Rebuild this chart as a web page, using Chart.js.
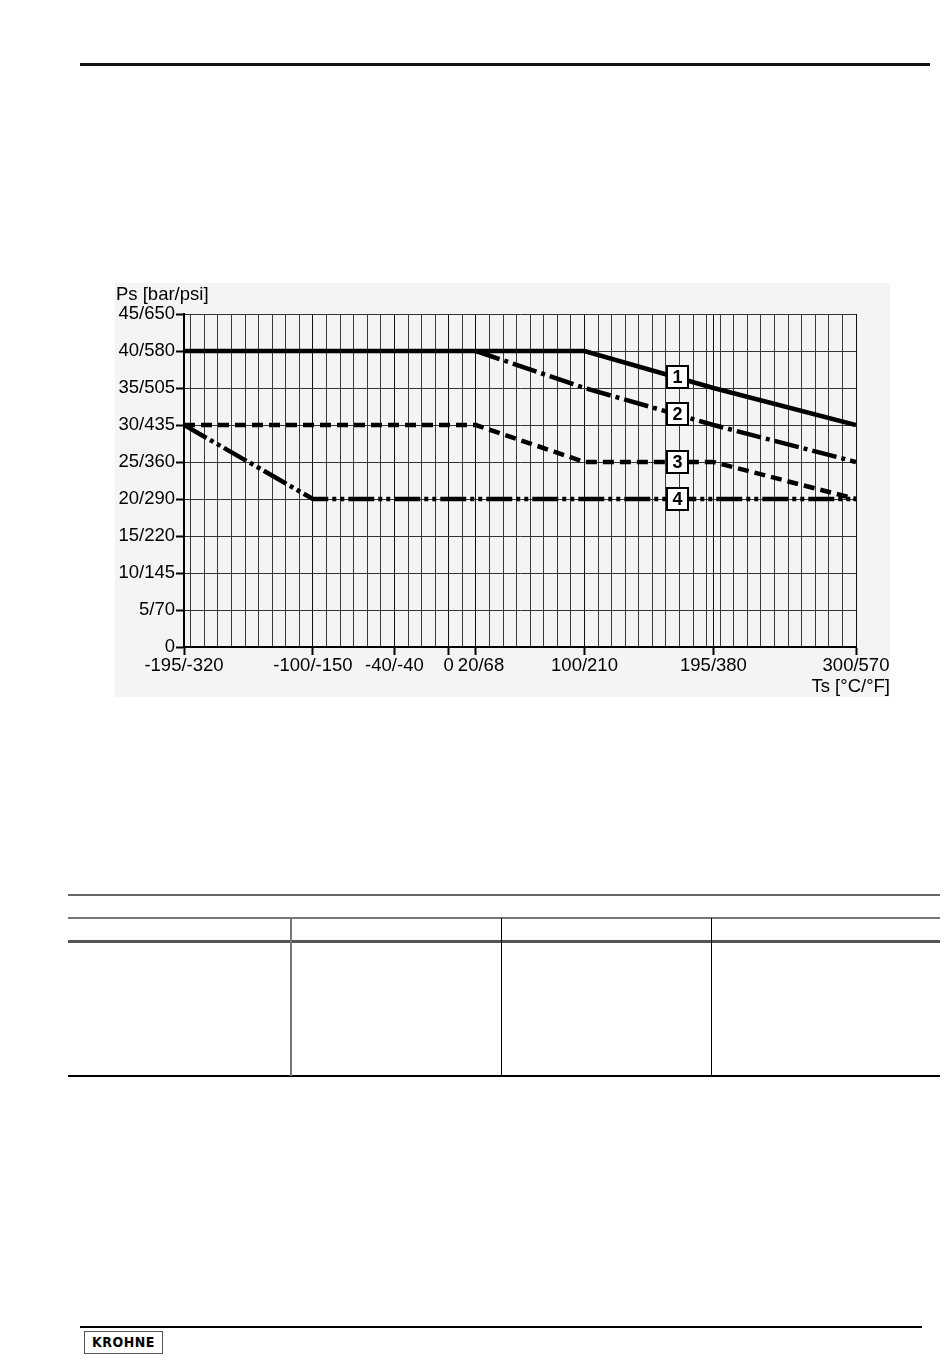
<!DOCTYPE html>
<html>
<head>
<meta charset="utf-8">
<script src="https://cdn.jsdelivr.net/npm/chart.js@4"></script>
<style>
  html, body { margin: 0; padding: 0; background: #fff; }
  body { width: 950px; height: 1371px; position: relative; overflow: hidden; font-family: 'Liberation Sans', Arial, sans-serif; }
  .rule { position: absolute; }
  #chartBg { position: absolute; left: 115px; top: 283px; width: 775px; height: 414px; background: #f4f4f4; }
  #chart { position: absolute; left: 115px; top: 283px; }
  #logo { position: absolute; left: 84px; top: 1331px; width: 77px; height: 21px; border: 1px solid #555;
          font: bold 14px 'DejaVu Sans Condensed', 'Liberation Sans Narrow', sans-serif; text-align: center; line-height: 21px; letter-spacing: 0.5px; }
</style>
</head>
<body>
<div class="rule" style="left:80px;top:63px;width:850px;height:3px;background:#111;"></div>

<div id="chartBg"></div>
<canvas id="chart" width="785" height="414"></canvas>

<!-- empty table below the chart -->
<div class="rule" style="left:68px;top:894px;width:872px;height:2px;background:#666;"></div>
<div class="rule" style="left:68px;top:917px;width:872px;height:2px;background:#777;"></div>
<div class="rule" style="left:68px;top:940px;width:872px;height:3px;background:#555;"></div>
<div class="rule" style="left:68px;top:1075px;width:872px;height:2px;background:#000;"></div>
<div class="rule" style="left:290px;top:918px;width:2px;height:158px;background:#777;"></div>
<div class="rule" style="left:501px;top:918px;width:1px;height:158px;background:#000;"></div>
<div class="rule" style="left:711px;top:918px;width:1px;height:158px;background:#000;"></div>

<div class="rule" style="left:80px;top:1326px;width:842px;height:2px;background:#000;"></div>
<div id="logo">KROHNE</div>

<script>
// temperature Ts [°C] and pressure Ps [bar] for each curve
var curve1T = [-195, 100, 195, 300];
var curve1P = [40, 40, 35, 30];
var curve2T = [20, 100, 195, 300];
var curve2P = [40, 35, 30, 25];
var curve3T = [-195, 20, 100, 195, 300];
var curve3P = [30, 30, 25, 25, 20];
var curve4T = [-195, -100, 300];
var curve4P = [30, 20, 20];

var curveNames = ['1', '2', '3', '4'];
var curveLabelT = 168;

// axis ticks
var xLabelC = [-195, -100, -40, 0, 20, 100, 195, 300];
var xLabelF = [-320, -150, -40, null, 68, 210, 380, 570];
var xGridT = [-195, -190, -180, -170, -160, -150, -140, -130, -120, -110, -100, -90, -80, -70, -60, -50, -40, -30, -20, -10,
              0, 10, 20, 30, 40, 50, 60, 70, 80, 90, 100, 110, 120, 130, 140, 150, 160, 170, 180, 190, 195,
              200, 210, 220, 230, 240, 250, 260, 270, 280, 290, 300];
var yBar = [0, 5, 10, 15, 20, 25, 30, 35, 40, 45];
var yPsi = [0, 70, 145, 220, 290, 360, 435, 505, 580, 650];

function pts(t, p) {
    return t.map(function(v, i) { return {x: v, y: p[i]}; });
}

function xLabel(v) {
    var i = xLabelC.indexOf(v);
    if (i < 0) return '';
    if (xLabelF[i] === null) return String(v);
    var s = v + '/' + xLabelF[i];
    if (v === 20) s = '\u00a0\u00a0' + s;   // keep clear of the "0" label
    return s;
}

function valueAt(t, p, x) {
    for (var i = 0; i < t.length - 1; i++) {
        if (x >= t[i] && x <= t[i + 1]) {
            return p[i] + (p[i + 1] - p[i]) * (x - t[i]) / (t[i + 1] - t[i]);
        }
    }
    return null;
}

var allT = [curve1T, curve2T, curve3T, curve4T];
var allP = [curve1P, curve2P, curve3P, curve4P];

var boxLabels = {
    id: 'boxLabels',
    afterDatasetsDraw: function(chart) {
        var ctx = chart.ctx, xs = chart.scales.x, ys = chart.scales.y;
        ctx.save();
        curveNames.forEach(function(name, i) {
            var v = valueAt(allT[i], allP[i], curveLabelT);
            var px = Math.round(xs.getPixelForValue(curveLabelT));
            var py = Math.round(ys.getPixelForValue(v));
            ctx.fillStyle = '#fff';
            ctx.fillRect(px - 10, py - 11, 21, 22);
            ctx.lineWidth = 2;
            ctx.strokeStyle = '#000';
            ctx.strokeRect(px - 10, py - 11, 21, 22);
            ctx.fillStyle = '#000';
            ctx.font = "bold 18px 'Liberation Sans', Arial, sans-serif";
            ctx.textAlign = 'center';
            ctx.textBaseline = 'middle';
            ctx.fillText(name, px + 0.5, py + 1);
        });
        ctx.restore();
    }
};

var axisTitles = {
    id: 'axisTitles',
    afterDraw: function(chart) {
        var ctx = chart.ctx, a = chart.chartArea;
        ctx.save();
        ctx.fillStyle = '#000';
        ctx.font = "18.5px 'Liberation Sans', Arial, sans-serif";
        ctx.textBaseline = 'middle';
        ctx.textAlign = 'left';
        ctx.fillText('Ps [bar/psi]', 1, a.top - 19);
        ctx.textAlign = 'right';
        ctx.fillText('Ts [°C/°F]', a.right + 34, a.bottom + 40);
        ctx.restore();
    }
};

Chart.defaults.font.family = "'Liberation Sans', Arial, sans-serif";
Chart.defaults.font.size = 18.5;
Chart.defaults.color = '#000';

var lineStyle = {
    borderColor: '#000',
    borderWidth: 4.5,
    pointRadius: 0,
    tension: 0,
    fill: false,
    borderCapStyle: 'butt'
};

var ctx = document.getElementById('chart').getContext('2d');
var myChart = new Chart(ctx, {
    type: 'line',
    data: {
        datasets: [
            Object.assign({label: '1', data: pts(curve1T, curve1P), borderDash: []}, lineStyle),
            Object.assign({label: '2', data: pts(curve2T, curve2P), borderDash: [25, 5, 4, 5]}, lineStyle),
            Object.assign({label: '3', data: pts(curve3T, curve3P), borderDash: [11, 6]}, lineStyle),
            Object.assign({label: '4', data: pts(curve4T, curve4P), borderDash: [26, 4, 4, 4, 4, 4]}, lineStyle)
        ]
    },
    options: {
        responsive: false,
        animation: false,
        layout: { padding: { left: 0, top: 31, right: 44, bottom: 0 } },
        plugins: { legend: { display: false }, tooltip: { enabled: false } },
        scales: {
            x: {
                type: 'linear',
                min: -195,
                max: 300,
                afterBuildTicks: function(scale) {
                    scale.ticks = xGridT.map(function(v) { return {value: v}; });
                },
                afterFit: function(scale) { scale.height = 50; },
                ticks: {
                    autoSkip: false,
                    maxRotation: 0,
                    minRotation: 0,
                    padding: 0,
                    callback: function(v) { return xLabel(v); }
                },
                grid: {
                    color: function(c) {
                        return c.tick && xLabelC.indexOf(c.tick.value) >= 0 ? '#111' : '#3a3a3a';
                    },
                    lineWidth: 1,
                    tickLength: 8,
                    tickWidth: 2,
                    tickColor: function(c) {
                        return c.tick && xLabelC.indexOf(c.tick.value) >= 0 ? '#000' : 'rgba(0,0,0,0)';
                    }
                },
                border: { color: '#000', width: 2 }
            },
            y: {
                min: 0,
                max: 45,
                afterBuildTicks: function(scale) {
                    scale.ticks = yBar.map(function(v) { return {value: v}; });
                },
                afterFit: function(scale) { scale.width = 69; },
                ticks: {
                    autoSkip: false,
                    padding: 1,
                    callback: function(v) {
                        var i = yBar.indexOf(v);
                        return yPsi[i] === 0 ? '0' : v + '/' + yPsi[i];
                    }
                },
                grid: {
                    color: '#333',
                    lineWidth: 1,
                    tickLength: 8,
                    tickWidth: 2,
                    tickColor: '#000'
                },
                border: { color: '#000', width: 2 }
            }
        }
    },
    plugins: [boxLabels, axisTitles]
});
</script>
</body>
</html>
